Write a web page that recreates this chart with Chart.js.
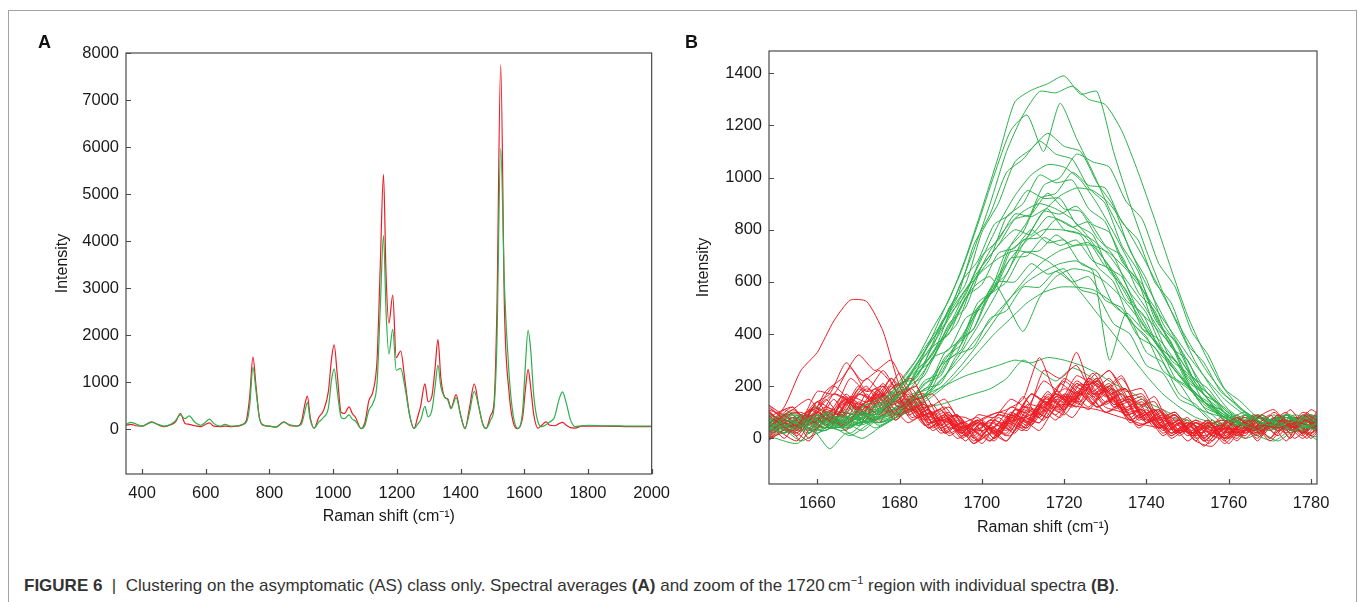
<!DOCTYPE html>
<html>
<head>
<meta charset="utf-8">
<script src="https://cdn.jsdelivr.net/npm/chart.js@4.4.0/dist/chart.umd.min.js"></script>
<style>
  body { margin: 0; background: #fff; width: 1358px; height: 602px; overflow: hidden; position: relative; font-family: "Liberation Sans", Arial, sans-serif; }
  #frame { position: absolute; left: 8px; top: 10px; width: 1347px; height: 620px; border: 1px solid #a3a3a3; }
  .panel-label { position: absolute; font-weight: bold; font-size: 18px; color: #111; }
  canvas { position: absolute; top: 0; }
  #chartA { left: 0; }
  #chartB { left: 680px; }
  #caption { position: absolute; left: 24px; top: 574px; font-size: 17px; color: #333; white-space: nowrap; }
  #caption sup { font-size: 11px; }
</style>
</head>
<body>
<div id="frame"></div>
<canvas id="chartA" width="680" height="540"></canvas>
<canvas id="chartB" width="678" height="540"></canvas>
<div class="panel-label" style="left:38px;top:32px">A</div>
<div class="panel-label" style="left:685px;top:32px">B</div>
<div id="caption"><b>FIGURE 6</b> &nbsp;|&nbsp; Clustering on the asymptomatic (AS) class only. Spectral averages <b>(A)</b> and zoom of the 1720&#8201;cm<sup>−1</sup> region with individual spectra <b>(B)</b>.</div>
<script>
// panel A: spectral averages
const ramanShiftA = [350,365,380,400,430,450,470,490,505,520,535,548,565,585,600,612,625,645,660,680,
  700,715,728,738,748,758,768,780,800,820,845,865,885,900,912,919,928,940,955,970,
  985,995,1003,1013,1025,1035,1050,1060,1070,1088,1100,1112,1125,1138,1148,1158,1166,1175,1187,1198,
  1212,1225,1240,1254,1265,1275,1288,1298,1310,1320,1329,1338,1350,1360,1370,1386,1400,1414,1428,1443,
  1458,1470,1480,1495,1505,1514,1526,1538,1552,1565,1580,1595,1603,1612,1620,1630,1643,1655,1668,1680,
  1695,1708,1720,1732,1745,1760,1780,1800,1850,1900,1950,2000];
const avgRed = [80,100,70,60,150,90,50,90,150,330,120,100,70,50,100,130,60,50,60,50,
  60,90,200,700,1530,900,250,80,60,40,150,70,60,150,550,700,250,20,250,400,
  800,1500,1790,1150,350,330,470,330,250,10,150,600,800,1500,3500,5420,3300,2250,2850,1520,
  1660,1050,300,10,250,500,960,580,700,1300,1900,1100,680,640,450,730,300,10,450,960,
  450,100,10,300,550,2500,7750,2500,800,150,10,250,800,1270,900,300,20,80,150,80,
  70,110,140,80,30,20,60,60,60,55,50,50];
const avgGreen = [100,140,110,60,140,100,60,100,180,300,220,280,150,80,150,210,120,60,100,60,
  70,100,150,500,1310,800,250,90,60,40,140,90,60,100,400,560,200,20,150,250,
  450,1050,1280,800,250,220,300,210,170,10,80,400,550,1000,2600,4120,2500,1600,2120,1250,
  1290,900,300,10,100,200,480,260,400,900,1360,900,680,620,430,670,300,10,350,800,
  450,100,10,200,450,1800,5970,3000,1200,300,10,400,1300,2100,1700,700,150,50,90,150,
  250,600,790,550,200,50,70,80,70,65,60,60];
const ticksAx = [400,600,800,1000,1200,1400,1600,1800,2000];
const ticksAy = [0,1000,2000,3000,4000,5000,6000,7000,8000];

// panel B: individual spectra around 1720 cm-1 (three sampling grids)
const ramanShiftB1 = [1648,1652,1656,1660,1664,1668,1672,1676,1680,1684,1688,1692,1696,1700,1704,1708,1712,1716,
  1720,1724,1728,1732,1736,1740,1744,1748,1752,1756,1760,1764,1768,1772,1776,1780,1784];
const ramanShiftB2 = [1648,1654,1658,1662,1666,1670,1674,1678,1682,1686,1690,1694,1698,1702,1706,1710,1714,1718,
  1722,1726,1730,1734,1738,1742,1746,1750,1754,1758,1762,1766,1770,1774,1778,1782,1786];
const ramanShiftB3 = [1648,1655,1659,1663,1667,1671,1675,1679,1683,1687,1691,1695,1699,1703,1707,1711,1715,1719,
  1723,1727,1731,1735,1739,1743,1747,1751,1755,1759,1763,1767,1771,1775,1779,1783,1787];
const greenSpectra = [
  [60,35,90,50,85,65,110,140,210,300,420,530,690,880,1080,1290,1335,1360,1390,1320,1330,1100,900,720,560,420,290,190,110,70,90,45,75,50,70],
  [40,70,30,80,60,100,90,160,230,330,430,560,720,900,1100,1240,1330,1325,1350,1300,1280,1180,1020,840,650,470,330,210,130,80,50,90,40,60,55],
  [60,40,70,100,50,120,150,180,260,360,500,640,820,1010,1180,1240,1100,1285,1150,1020,880,760,620,500,380,270,170,100,60,30,70,80,40,60,50],
  [50,20,60,90,40,80,60,110,170,280,350,500,590,790,900,1060,1110,1170,1120,1100,980,890,720,610,440,350,210,160,80,50,80,60,30,70,45],
  [70,100,50,30,80,60,90,140,230,290,440,540,740,860,1020,1070,1140,1090,1070,960,900,740,640,460,370,230,170,90,60,40,70,90,50,30,60],
  [30,60,80,40,50,90,70,90,150,170,290,340,490,580,740,830,970,1000,1090,1060,1040,910,840,670,580,410,320,190,140,80,60,40,80,60,50],
  [100,50,70,120,60,40,100,120,170,240,330,430,560,690,820,930,1010,1050,1040,990,900,790,670,540,420,310,210,130,80,100,60,50,90,70,40],
  [20,60,40,90,70,110,80,130,200,240,370,440,600,690,850,900,1010,980,990,880,830,680,600,430,360,220,170,90,70,40,60,80,50,30,70],
  [60,80,30,50,100,70,60,80,120,170,240,330,430,540,660,770,870,930,960,950,900,810,700,580,460,350,250,170,110,70,40,60,90,60,40],
  [40,90,60,20,70,120,90,100,150,250,300,440,500,660,740,840,860,940,880,870,770,700,560,480,340,280,160,120,70,50,80,40,60,90,50],
  [80,30,70,60,40,90,130,150,200,280,370,470,600,720,810,870,900,880,840,770,680,580,470,370,280,200,130,90,50,70,40,90,60,40,80],
  [50,40,90,70,60,30,80,110,170,190,310,360,500,570,720,770,870,860,890,820,790,660,590,440,370,240,190,110,70,40,70,50,30,80,60],
  [30,70,50,100,60,80,110,130,200,270,360,460,570,660,740,800,780,850,830,790,720,640,540,430,330,240,170,110,60,90,50,70,40,50,90],
  [70,50,20,60,90,50,70,90,120,210,240,360,420,570,630,760,770,840,810,830,740,700,560,490,350,300,170,130,80,50,30,80,60,70,40],
  [90,60,80,40,50,100,80,120,160,220,300,390,490,600,690,760,800,800,790,760,700,610,520,420,330,240,170,110,60,40,80,50,70,40,60],
  [40,20,60,80,110,70,90,140,210,230,350,400,540,590,710,730,800,750,760,670,640,510,460,330,290,170,130,70,50,80,60,30,50,90,60],
  [60,90,40,30,70,50,100,110,130,220,250,370,420,550,600,710,720,780,740,750,660,620,490,430,300,250,140,110,60,70,50,90,40,60,50],
  [30,50,70,60,40,80,60,80,120,160,210,280,360,450,540,620,680,720,740,740,710,650,570,480,390,300,220,150,100,60,40,70,80,50,70],
  [80,60,40,90,60,110,130,160,220,300,390,480,570,640,690,720,710,680,630,560,480,400,320,240,170,120,80,60,40,90,60,50,30,70,40],
  [50,80,60,40,90,70,100,130,180,260,360,480,580,620,520,410,540,620,650,640,600,540,460,370,290,210,140,90,50,70,40,60,80,50,60],
  [20,40,70,90,50,60,80,100,140,180,240,310,390,470,540,600,640,670,680,640,300,480,420,380,300,220,150,100,60,40,70,90,50,30,70],
  [70,30,50,60,80,40,90,120,180,200,310,340,460,500,600,600,670,630,650,570,550,440,400,280,250,150,120,60,40,60,80,50,70,40,60],
  [40,70,90,50,30,60,70,90,110,190,210,320,350,460,490,580,580,640,600,620,530,500,390,350,240,200,120,90,50,30,60,80,40,70,50],
  [60,40,30,80,60,90,50,80,110,150,200,260,330,400,460,520,560,580,580,570,530,470,400,330,260,190,130,90,60,80,40,50,70,60,30],
  [30,50,80,40,60,20,70,90,120,150,180,210,240,260,280,300,290,310,300,280,250,210,180,140,110,80,60,40,70,50,30,60,80,40,50],
  [60,20,40,70,50,80,40,70,100,120,130,150,170,190,230,300,260,220,270,240,200,170,130,110,80,60,40,70,50,90,60,40,30,60,70],
  [10,-20,30,-40,20,0,40,80,160,200,330,380,520,570,690,700,770,740,760,680,650,530,480,350,300,180,140,70,40,10,-10,30,20,-20,10],
  [0,30,-10,20,40,10,50,90,130,260,320,470,550,700,760,860,850,880,800,780,660,600,450,390,260,210,120,90,30,0,20,-10,30,10,0],
  [50,90,70,40,60,110,60,80,140,160,280,330,480,560,720,790,920,940,1020,970,960,830,760,600,520,360,290,180,130,70,50,40,90,70,50],
  [70,40,60,100,80,120,100,150,220,360,440,600,680,820,860,950,920,920,820,780,640,570,420,360,230,180,100,80,40,60,90,50,40,80,60]
];
const redSpectra = [
  [50,121,260,330,450,530,525,410,200,100,80,60,40,30,50,70,90,110,130,120,110,90,70,50,40,30,20,30,40,30,50,40,60,50,40],
  [40,110,70,180,230,320,260,300,180,130,70,90,30,60,40,120,110,170,150,190,120,100,50,70,20,50,10,40,80,30,60,20,90,50,70],
  [120,50,130,170,290,220,260,200,230,120,150,60,80,20,90,60,140,110,210,160,190,90,110,40,60,10,50,70,20,80,110,40,70,30,90],
  [10,70,40,140,110,230,180,260,170,200,90,120,40,70,100,90,170,140,220,170,230,120,140,60,80,20,60,30,0,70,30,90,40,20,60],
  [90,30,110,80,160,110,190,130,150,70,110,30,60,90,110,150,310,170,160,170,100,120,50,70,10,60,30,0,80,40,90,30,100,60,20],
  [100,40,110,70,170,100,180,90,110,40,70,20,90,80,150,120,220,180,330,170,200,90,110,40,70,10,60,20,50,90,40,110,30,80,60],
  [110,40,90,120,200,150,230,170,210,100,130,40,60,10,90,80,170,130,230,190,250,130,150,60,90,20,70,10,50,80,30,70,40,110,60],
  [0,80,30,110,90,170,140,200,110,140,40,70,-10,40,20,110,80,180,140,230,160,190,80,110,20,60,-10,50,20,70,0,60,10,80,30],
  [130,60,90,40,140,90,170,140,190,90,120,40,70,0,60,30,120,80,180,130,200,110,140,50,90,20,50,-20,40,30,100,40,70,10,90],
  [20,60,30,100,60,160,90,170,120,150,60,100,20,70,10,90,60,170,120,210,150,190,80,130,40,70,10,50,20,60,30,90,40,80,110],
  [80,120,50,150,80,190,130,230,110,130,40,80,10,70,60,160,80,160,140,230,190,240,120,160,40,80,0,60,-10,70,40,80,50,90,20],
  [-10,60,30,80,50,130,90,170,80,110,20,60,-10,30,10,110,70,160,120,220,150,190,70,110,20,60,-20,40,20,90,20,60,30,70,40],
  [90,40,60,110,170,140,190,160,250,150,170,90,80,50,90,70,170,130,190,170,230,120,160,70,110,30,70,40,60,20,90,50,70,10,80],
  [40,110,150,80,100,90,170,100,130,50,70,0,30,-10,70,40,130,90,170,120,190,100,120,40,60,-10,40,10,70,20,40,70,20,80,10],
  [50,30,120,100,150,110,160,70,140,60,90,30,60,40,120,100,260,230,280,170,180,100,110,40,80,20,60,0,60,30,70,40,80,20,90],
  [110,90,100,70,170,150,200,110,180,80,100,20,50,10,80,30,110,80,160,130,210,140,160,70,100,20,60,20,70,0,60,10,80,60,100],
  [0,30,-10,80,50,100,70,120,60,90,20,50,-20,20,-10,70,30,120,80,160,100,130,40,80,0,40,-30,40,10,60,-10,50,0,60,10],
  [80,20,110,70,160,90,190,110,150,60,90,20,70,0,80,40,130,100,200,210,260,180,190,80,100,30,70,0,50,10,80,20,60,50,80],
  [20,90,40,140,60,160,140,210,130,160,60,90,10,60,10,110,90,180,110,180,120,150,70,100,20,60,-10,-30,40,10,90,30,60,20,90],
  [100,40,70,40,140,120,160,80,170,90,110,30,60,-10,60,30,120,70,150,110,190,110,140,50,80,10,60,10,90,20,60,-10,80,20,100],
  [10,70,60,100,30,130,60,150,70,110,20,60,-10,70,30,130,120,210,170,250,170,190,90,110,20,60,-10,50,10,90,40,70,0,80,20],
  [70,0,90,60,150,70,170,90,180,80,100,10,50,-20,60,20,110,80,170,140,220,130,150,60,90,10,60,-10,70,20,60,30,70,0,80],
  [40,120,20,90,50,140,100,180,100,130,50,90,20,70,30,120,90,170,130,210,140,170,70,100,10,50,0,80,10,90,60,100,20,110,30],
  [60,-10,80,50,130,60,140,70,120,40,80,10,60,20,100,70,160,130,220,180,230,140,160,60,90,10,60,10,50,0,80,30,70,0,80],
  [30,110,70,180,170,270,180,200,110,120,30,70,-10,60,20,110,70,160,110,190,120,150,60,90,10,60,-10,70,0,90,10,80,40,90,10],
  [-10,80,0,100,70,170,150,230,160,170,70,90,0,50,10,90,60,150,120,200,130,170,80,110,20,60,-10,50,20,70,0,90,20,70,0],
  [130,30,120,90,140,130,170,90,130,40,80,0,40,-10,70,40,150,140,240,210,260,160,170,70,90,10,60,-10,60,20,70,0,90,20,120],
  [20,70,-10,80,60,150,120,200,110,140,40,80,10,60,10,90,50,130,90,170,120,160,70,110,30,70,0,50,-20,60,20,70,0,50,10],
  [0,100,80,120,100,200,120,210,90,120,30,60,-20,40,-10,80,60,160,130,220,180,230,130,140,40,70,-10,40,0,70,30,60,20,90,0],
  [110,10,90,70,150,70,160,80,160,70,100,20,70,0,90,50,140,120,210,170,210,120,150,70,100,20,70,0,70,-10,80,0,100,10,90]
];
const ticksBx = [1660,1680,1700,1720,1740,1760,1780];
const ticksBy = [0,200,400,600,800,1000,1200,1400];

const GREEN = '#2bb04a';
const RED = '#ec1c24';
const FONT = '"Liberation Sans", Arial, sans-serif';

// box around the plot area and short inward tick marks
const frameTicks = {
  id: 'frameTicks',
  afterDraw(chart) {
    const {ctx, chartArea: a, scales} = chart;
    ctx.save();
    ctx.strokeStyle = '#4a4a4a';
    ctx.lineWidth = 1.2;
    ctx.strokeRect(a.left, a.top, a.right - a.left, a.bottom - a.top);
    ctx.beginPath();
    scales.x.ticks.forEach(t => {
      const px = Math.round(scales.x.getPixelForValue(t.value)) + 0.5;
      ctx.moveTo(px, a.bottom);
      ctx.lineTo(px, a.bottom - 5);
    });
    scales.y.ticks.forEach(t => {
      const py = Math.round(scales.y.getPixelForValue(t.value)) + 0.5;
      ctx.moveTo(a.left, py);
      ctx.lineTo(a.left + 5, py);
    });
    ctx.stroke();
    ctx.restore();
  }
};

function axes(xr, yr, xt, yt, yWidth, xHeight, xTitlePad) {
  return {
    x: {
      type: 'linear', min: xr[0], max: xr[1],
      afterBuildTicks: s => { s.ticks = xt.map(v => ({value: v})); },
      afterFit: s => { s.height = xHeight; },
      grid: {display: false, drawTicks: false},
      border: {display: false},
      ticks: {color: '#1a1a1a', padding: 10, maxRotation: 0, callback: v => String(v),
        font: {family: FONT, size: 16.5}},
      title: {display: true, text: 'Raman shift (cm⁻¹)', color: '#1a1a1a',
        padding: {top: 0, bottom: xTitlePad}, font: {family: FONT, size: 16}}
    },
    y: {
      type: 'linear', min: yr[0], max: yr[1],
      afterBuildTicks: s => { s.ticks = yt.map(v => ({value: v})); },
      afterFit: s => { s.width = yWidth; },
      grid: {display: false, drawTicks: false},
      border: {display: false},
      ticks: {color: '#1a1a1a', padding: 7, callback: v => String(v),
        font: {family: FONT, size: 16.5}},
      title: {display: true, text: 'Intensity', color: '#1a1a1a',
        padding: {top: 0, bottom: 0}, font: {family: FONT, size: 16}}
    }
  };
}

const baseOpts = {
  responsive: false,
  animation: false,
  events: [],
  elements: {point: {radius: 0}},
  plugins: {legend: {display: false}, tooltip: {enabled: false}}
};

new Chart(document.getElementById('chartA'), {
  type: 'line',
  data: {
    datasets: [
      {data: ramanShiftA.map((x, i) => ({x, y: avgGreen[i]})), borderColor: GREEN, borderWidth: 1.2, cubicInterpolationMode: 'monotone'},
      {data: ramanShiftA.map((x, i) => ({x, y: avgRed[i]})), borderColor: RED, borderWidth: 1.2, cubicInterpolationMode: 'monotone'}
    ]
  },
  options: Object.assign({}, baseOpts, {
    layout: {padding: {left: 53, top: 53, right: 21, bottom: 0}},
    scales: axes([349.5, 2000], [-957, 8000], ticksAx, ticksAy, 73, 66, 14)
  }),
  plugins: [frameTicks]
});

const gridsB = [ramanShiftB1, ramanShiftB2, ramanShiftB3];
const setsB = [];
for (let i = 0; i < greenSpectra.length; i++) {
  const xs = gridsB[i % 3];
  setsB.push({data: xs.map((x, j) => ({x, y: greenSpectra[i][j]})), borderColor: GREEN, borderWidth: 1, tension: 0.2});
  if (redSpectra[i]) {
    setsB.push({data: xs.map((x, j) => ({x, y: redSpectra[i][j]})), borderColor: RED, borderWidth: 1, tension: 0.2});
  }
}

new Chart(document.getElementById('chartB'), {
  type: 'line',
  data: {datasets: setsB},
  options: Object.assign({}, baseOpts, {
    layout: {padding: {left: 14, top: 51, right: 41, bottom: 0}},
    scales: axes([1648.26, 1781.46], [-175, 1485.5], ticksBx, ticksBy, 75, 56, 3)
  }),
  plugins: [frameTicks]
});
</script>
</body>
</html>
